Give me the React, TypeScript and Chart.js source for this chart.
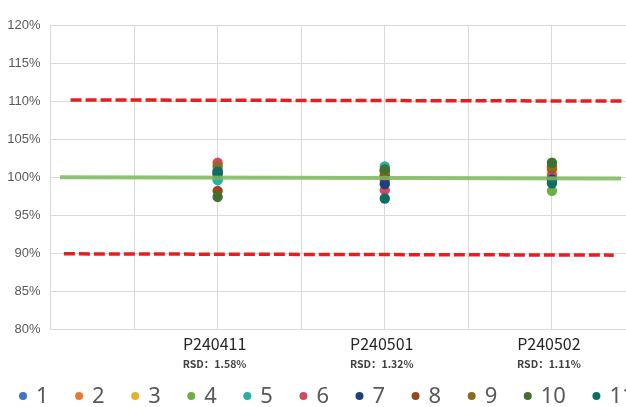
import React, { useEffect, useRef } from 'react';
import { Chart, registerables } from 'chart.js';

Chart.register(...registerables);

// ---- data ----
const categories = ['P240411', 'P240501', 'P240502'];
const rsdLabels = ['RSD：1.58%', 'RSD：1.32%', 'RSD：1.11%'];
const categoryX = [1, 2, 3];

const seriesNames = ['1', '2', '3', '4', '5', '6', '7', '8', '9', '10', '11'];
const seriesColors = [
  '#4472C4', '#E67C33', '#E6B12A', '#6DAE45', '#27B0A4', '#D44A5C',
  '#1F3F80', '#944A1F', '#8C6B22', '#3F702F', '#0F6E64',
];

// values (%) for series 1..11 in each batch
const batchP240411 = [100.9, 99.9, 100.4, 100.2, 99.6, 101.9, 100.5, 98.2, 101.4, 97.4, 100.7];
const batchP240501 = [99.6, 100.3, 100.6, 100.9, 101.4, 98.3, 99.1, 100.2, 100.8, 101.0, 97.2];
const batchP240502 = [99.9, 100.9, 100.6, 98.2, 99.6, 100.2, 99.7, 101.2, 101.4, 101.9, 99.2];
const batches = [batchP240411, batchP240501, batchP240502];

// limit and reference lines (x in category units, y in %)
const upperLimitX = [0.12, 3.42];
const upperLimitY = [110.15, 110.0];
const lowerLimitX = [0.08, 3.37];
const lowerLimitY = [89.92, 89.75];
const targetX = [0.057, 3.414];
const targetY = [100.0, 99.83];

const yTicks = [80, 85, 90, 95, 100, 105, 110, 115, 120];

const CANVAS_W = 680;
const CANVAS_H = 407;

const xLabelPlugin = {
  id: 'xLabels',
  afterDraw(chart: any) {
    const ctx = chart.ctx;
    const xs = chart.scales.x;
    ctx.save();
    ctx.textAlign = 'center';
    ctx.textBaseline = 'middle';
    categories.forEach((cat, c) => {
      const px = xs.getPixelForValue(categoryX[c]) - 3;
      ctx.fillStyle = '#262626';
      ctx.font = '16px "Noto Sans CJK SC", "Noto Sans", sans-serif';
      ctx.fillText(cat, px, 344);
      ctx.fillStyle = '#404040';
      ctx.font = 'bold 10.5px "Noto Sans CJK SC", "Noto Sans", sans-serif';
      ctx.fillText(rsdLabels[c], px, 364);
    });
    ctx.restore();
  },
};

const legendPlugin = {
  id: 'customLegend',
  afterDraw(chart: any) {
    const ctx = chart.ctx;
    ctx.save();
    ctx.font = '22px "Noto Sans", "DejaVu Sans", sans-serif';
    ctx.textBaseline = 'middle';
    ctx.textAlign = 'left';
    let cx = 23;
    const cy = 396;
    seriesNames.forEach((name, i) => {
      ctx.fillStyle = seriesColors[i];
      ctx.beginPath();
      ctx.arc(cx, cy, 4, 0, Math.PI * 2);
      ctx.fill();
      ctx.fillStyle = '#595959';
      const tx = cx + 13;
      ctx.fillText(name, tx, cy + 1);
      const w = ctx.measureText(name).width;
      cx = tx + w + 30.5;
    });
    ctx.restore();
  },
};

export default function App() {
  const ref = useRef<HTMLCanvasElement | null>(null);

  useEffect(() => {
    if (!ref.current) return;

    const scatterSets = seriesNames.map((name, i) => ({
      label: name,
      data: categoryX.map((x, c) => ({ x, y: batches[c][i] })),
      backgroundColor: seriesColors[i],
      borderColor: seriesColors[i],
      borderWidth: 0,
      pointRadius: 5.2,
      pointHoverRadius: 5.2,
      showLine: false,
      order: 20 - i,
    }));

    const lineSet = (xs: number[], ys: number[], color: string, width: number, dash: number[]) => ({
      label: '',
      data: xs.map((x, k) => ({ x, y: ys[k] })),
      showLine: true,
      borderColor: color,
      backgroundColor: color,
      borderWidth: width,
      borderDash: dash,
      borderCapStyle: 'butt',
      pointRadius: 0,
      pointHoverRadius: 0,
      fill: false,
      order: 0,
    });

    const chart = new Chart(ref.current, {
      type: 'scatter',
      data: {
        datasets: [
          ...scatterSets,
          lineSet(targetX, targetY, 'rgba(125,185,90,0.85)', 4, []),
          lineSet(upperLimitX, upperLimitY, '#E3201F', 3.5, [11, 4]),
          lineSet(lowerLimitX, lowerLimitY, '#E3201F', 3.5, [11, 4]),
        ] as any,
      },
      options: {
        responsive: false,
        animation: false,
        events: [],
        layout: { padding: { left: 0, top: 25, right: CANVAS_W - 635.5, bottom: 0 } },
        plugins: {
          legend: { display: false },
          tooltip: { enabled: false },
        },
        scales: {
          x: {
            type: 'linear',
            min: 0,
            max: 3.5,
            ticks: { display: false, stepSize: 0.5 },
            grid: { color: '#d9d9d9', drawTicks: false, lineWidth: 1 },
            border: { color: '#d9d9d9' },
            afterFit: (s: any) => { s.height = CANVAS_H - 329.3; },
          },
          y: {
            min: yTicks[0],
            max: yTicks[yTicks.length - 1],
            afterBuildTicks: (s: any) => { s.ticks = yTicks.map((v) => ({ value: v })); },
            ticks: {
              padding: 10,
              color: '#595959',
              font: { family: '"Liberation Sans", Arial, sans-serif', size: 13 },
              callback: (v: any) => v + '%',
            },
            grid: { color: '#d9d9d9', drawTicks: false, lineWidth: 1 },
            border: { color: '#d9d9d9' },
            afterFit: (s: any) => { s.width = 50.5; },
          },
        },
      } as any,
      plugins: [xLabelPlugin, legendPlugin],
    });

    return () => chart.destroy();
  }, []);

  return (
    <div style={{ position: 'fixed', left: 0, top: 0, width: '100vw', height: '100vh', overflow: 'hidden', background: '#fff' }}>
      <canvas ref={ref} width={CANVAS_W} height={CANVAS_H} style={{ display: 'block', width: CANVAS_W, height: CANVAS_H }} />
    </div>
  );
}
